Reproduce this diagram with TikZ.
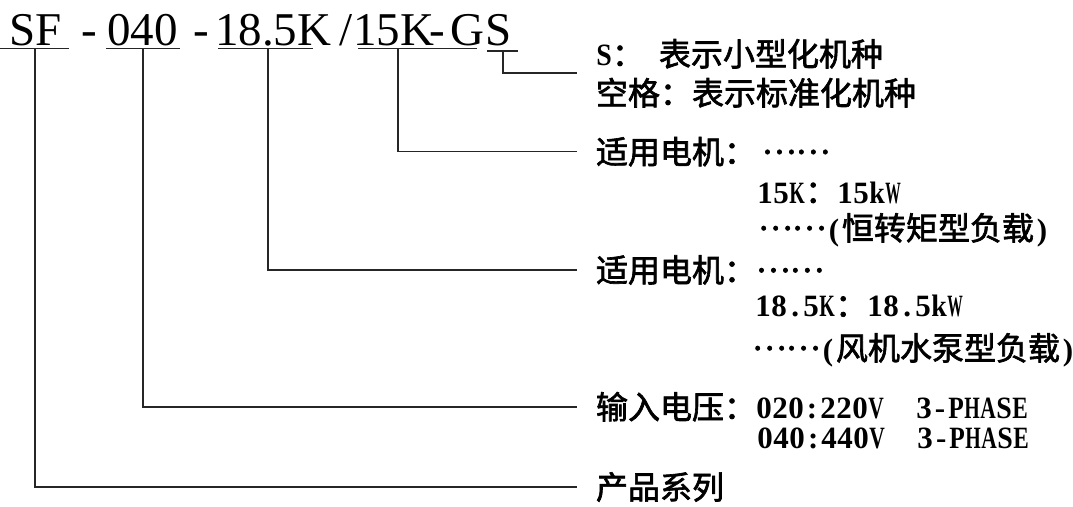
\documentclass[tikz,border=0pt]{standalone}
\usepackage{graphicx}
\usepackage{fontspec}
\setmainfont{Liberation Serif}
\newfontfamily\cjk{Noto Sans CJK SC}[FakeBold=2]
\newfontfamily\hwfont{Liberation Serif}
% half-width cells for the latin parts of the notes
\newsavebox\hwbox
\newcommand\hw[1]{\hwscan#1\relax}
\def\hwscan#1{\ifx\relax#1\else\hwcell{#1}\expandafter\hwscan\fi}
\newcommand\hwcell[1]{%
  \sbox\hwbox{\hwfont\bfseries\fontsize{31}{36}\selectfont#1}%
  \ifdim\wd\hwbox>15.5pt
    \makebox[16pt]{\resizebox{15.5pt}{\ht\hwbox}{\usebox\hwbox}}%
  \else
    \makebox[16pt]{\usebox\hwbox}%
  \fi}
\newcommand\mdots{\raisebox{10pt}{……}}
\usetikzlibrary{positioning}

\begin{document}
\begin{tikzpicture} [
    x=1pt, y=-1pt,                 % pixel grid, y runs downward
    ]
% -------------------------------------------------
\tikzset{
  code/.style={inner sep=0pt, anchor=base west, font=\fontsize{47}{50}\selectfont},
  uline/.style={draw, line width=1.3pt, black!85},
  desc/.style={inner sep=0pt, outer xsep=19pt, anchor=west, align=left,
               font=\cjk\fontsize{32}{40}\selectfont},
  more/.style={inner sep=0pt, anchor=base west, font=\cjk\fontsize{32}{40}\selectfont},
  line/.style={draw, line width=1.6pt, black!85},
}
    \useasboundingbox (0,0) rectangle (1073,506);

    % model code
    \node [code] (sf)    at (9,45)   {SF};
    \node [code] (dash1) at (81,45)  {-};
    \node [code] (v040)  at (107,45) {040};
    \node [code] (dash2) at (193,45) {-};
    \node [code] (v185)  at (215,45) {18.5K};
    \node [code] (slash) at (339,45) {/};
    \node [code] (v15)   at (353,45) {15K};
    \node [code] (dash3) at (429,45) {-};
    \node [code] (g)     at (450,45) {G};
    \node [code] (s)     at (485,45) {S};

    \path [uline] (0,48.5) -- (69,48.5);
    \path [uline] (106,48.5) -- (180,48.5);
    \path [uline] (218,48.5) -- (313,48.5);
    \path [uline] (358,48.5) -- (477,48.5);
    \path [uline, line width=2.2pt] (487,50.7) -- (518,50.7);

    \coordinate (tsf)  at (35,48.5);
    \coordinate (t040) at (143,48.5);
    \coordinate (t185) at (268,48.5);
    \coordinate (t15)  at (398,48.5);
    \coordinate (ts)   at (503,50.7);

    % descriptions
    \node [desc, font=\cjk\fontsize{32}{39}\selectfont] (dsize) at (577,73.3)
        {\hw{S}：\hspace{15pt}表示小型化机种\\空格：表示标准化机种};

    \node [desc] (dtq)  at (577,151.7) {适用电机：\hspace{6pt}\mdots};
    \node [more] (dtq2) at (757,203)   {\hw{15K}：\hw{15kW}};
    \node [more] (dtq3) at (758,240)   {\mdots\hw{(}恒转矩型负载\hw{)}};

    \node [desc] (dfan)  at (577,270)  {适用电机：\mdots};
    \node [more] (dfan2) at (755,316.7) {\hw{18.5K}：\hw{18.5kW}};
    \node [more] (dfan3) at (752,360)   {\mdots\hw{(}风机水泵型负载\hw{)}};

    \node [desc] (dvolt)  at (577,406.7) {输入电压：\hw{020:220V~~3-PHASE}};
    \node [more] (dvolt2) at (757,448)   {\hw{040:440V~~3-PHASE}};

    \node [desc] (dser) at (577,487) {产品系列};

    \path [line, line width=2pt] (ts) |- (dsize.west);
    \path [line, line width=1.2pt] (t15) |- (dtq.west);
    \path [line] (t185) |- (dfan.west);
    \path [line] (t040) |- (dvolt.west);
    \path [line, line width=2pt] (tsf) |- (dser.west);

\end{tikzpicture}
\end{document}
